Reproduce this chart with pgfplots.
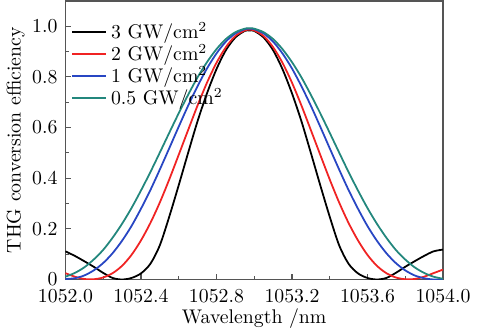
\documentclass[border=0pt]{standalone}
\usepackage{pgfplots}
\pgfplotsset{compat=1.18}
\definecolor{cRed}{RGB}{240,35,35}
\definecolor{cBlue}{RGB}{40,70,195}
\definecolor{cTeal}{RGB}{35,135,125}
\definecolor{axgray}{RGB}{85,85,85}
\begin{document}
\begin{tikzpicture}
\begin{axis}[
  scale only axis,
  width=191pt, height=141pt,
  xmin=1052, xmax=1054, ymin=0, ymax=1.1,
  xtick={1052.0,1052.4,1052.8,1053.2,1053.6,1054.0},
  xticklabels={1052.0,1052.4,1052.8,1053.2,1053.6,1054.0},
  ytick={0,0.2,0.4,0.6,0.8,1.0},
  yticklabels={0,0.2,0.4,0.6,0.8,1.0},
  minor x tick num=1, minor y tick num=1,
  tick align=inside,
  xtick pos=bottom, ytick pos=left,
  major tick length=3pt, minor tick length=2pt,
  axis line style={axgray, line width=0.8pt},
  tick style={axgray, line width=0.6pt},
  xticklabel style={yshift=-1.5pt},
  yticklabel style={xshift=-0.5pt},
  xlabel={Wavelength /nm},
  ylabel={THG conversion efficiency},
  xlabel style={yshift=4pt},
  ylabel style={yshift=-3pt},
  legend style={at={(0.01,0.945)}, anchor=north west, draw=none, fill=none,
    inner sep=1pt, row sep=-2.5pt, font=\normalsize},
  legend cell align=left,
  every axis plot/.append style={line width=0.9pt, smooth, mark=none},
]
\addplot[black] coordinates {
(1052.00,0.111)(1052.05,0.093)(1052.10,0.072)(1052.15,0.050)(1052.20,0.026)
(1052.25,0.006)(1052.30,0.000)(1052.35,0.006)(1052.40,0.024)(1052.45,0.062)
(1052.50,0.135)(1052.55,0.248)(1052.60,0.372)(1052.65,0.500)(1052.70,0.625)
(1052.75,0.735)(1052.80,0.830)(1052.85,0.905)(1052.90,0.955)(1052.95,0.981)
(1052.975,0.983)
(1053.00,0.981)(1053.05,0.955)(1053.10,0.905)(1053.15,0.830)(1053.20,0.735)
(1053.25,0.625)(1053.30,0.500)(1053.35,0.372)(1053.40,0.248)(1053.45,0.135)
(1053.50,0.062)(1053.55,0.024)(1053.60,0.006)(1053.65,0.000)(1053.70,0.006)
(1053.75,0.026)(1053.80,0.050)(1053.85,0.072)(1053.90,0.093)(1053.95,0.111)
(1054.00,0.118)
};
\addlegendentry{3 GW/cm$^2$}
\addplot[cRed] coordinates {
(1052.00,0.025)(1052.05,0.011)(1052.10,0.002)(1052.15,0.001)(1052.20,0.008)
(1052.25,0.025)(1052.30,0.054)(1052.35,0.097)(1052.40,0.154)(1052.45,0.223)
(1052.50,0.304)(1052.55,0.395)(1052.60,0.492)(1052.65,0.590)(1052.70,0.687)
(1052.75,0.777)(1052.80,0.855)(1052.85,0.917)(1052.90,0.961)(1052.95,0.983)
(1052.975,0.986)
(1053.00,0.983)(1053.05,0.961)(1053.10,0.917)(1053.15,0.855)(1053.20,0.777)
(1053.25,0.687)(1053.30,0.590)(1053.35,0.492)(1053.40,0.395)(1053.45,0.304)
(1053.50,0.223)(1053.55,0.154)(1053.60,0.097)(1053.65,0.054)(1053.70,0.025)
(1053.75,0.008)(1053.80,0.001)(1053.85,0.002)(1053.90,0.011)(1053.95,0.025)
(1054.00,0.039)
};
\addlegendentry{2 GW/cm$^2$}
\addplot[cBlue] coordinates {
(1052.00,0.002)(1052.05,0.005)(1052.10,0.016)(1052.15,0.036)(1052.20,0.065)
(1052.25,0.104)(1052.30,0.153)(1052.35,0.211)(1052.40,0.279)(1052.45,0.353)
(1052.50,0.434)(1052.55,0.518)(1052.60,0.603)(1052.65,0.686)(1052.70,0.763)
(1052.75,0.833)(1052.80,0.892)(1052.85,0.939)(1052.90,0.971)(1052.95,0.988)
(1052.975,0.990)
(1053.00,0.988)(1053.05,0.971)(1053.10,0.939)(1053.15,0.892)(1053.20,0.833)
(1053.25,0.763)(1053.30,0.686)(1053.35,0.603)(1053.40,0.518)(1053.45,0.434)
(1053.50,0.353)(1053.55,0.279)(1053.60,0.211)(1053.65,0.153)(1053.70,0.104)
(1053.75,0.065)(1053.80,0.036)(1053.85,0.016)(1053.90,0.005)(1053.95,0.000)
(1054.00,0.001)
};
\addlegendentry{1 GW/cm$^2$}
\addplot[cTeal] coordinates {
(1052.00,0.011)(1052.05,0.026)(1052.10,0.048)(1052.15,0.079)(1052.20,0.117)
(1052.25,0.165)(1052.30,0.220)(1052.35,0.282)(1052.40,0.351)(1052.45,0.424)
(1052.50,0.501)(1052.55,0.579)(1052.60,0.656)(1052.65,0.729)(1052.70,0.798)
(1052.75,0.858)(1052.80,0.909)(1052.85,0.949)(1052.90,0.976)(1052.95,0.990)
(1052.975,0.992)
(1053.00,0.990)(1053.05,0.976)(1053.10,0.949)(1053.15,0.909)(1053.20,0.858)
(1053.25,0.798)(1053.30,0.729)(1053.35,0.656)(1053.40,0.579)(1053.45,0.501)
(1053.50,0.424)(1053.55,0.351)(1053.60,0.282)(1053.65,0.220)(1053.70,0.165)
(1053.75,0.117)(1053.80,0.079)(1053.85,0.048)(1053.90,0.026)(1053.95,0.011)
(1054.00,0.003)
};
\addlegendentry{0.5 GW/cm$^2$}
\end{axis}
\end{tikzpicture}
\end{document}
